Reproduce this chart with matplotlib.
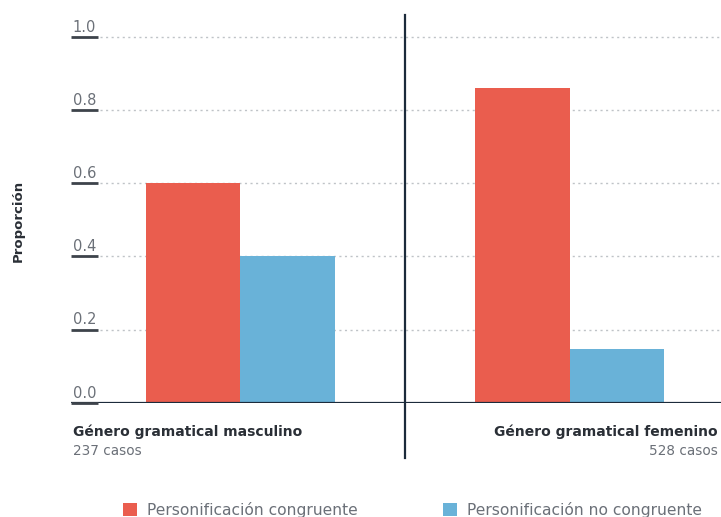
import matplotlib
matplotlib.use('Agg')
import matplotlib.pyplot as plt
import matplotlib.transforms as mtransforms
import numpy as np

# Data
grupos = ['Género gramatical masculino', 'Género gramatical femenino']
casos = [237, 528]
congruente = [0.60, 0.86]
no_congruente = [0.40, 0.147]
series_labels = ['Personificación congruente', 'Personificación no congruente']
yticks = [0.0, 0.2, 0.4, 0.6, 0.8, 1.0]

RED = '#EA5D4E'
BLUE = '#69B2D8'
NAVY = '#1c2b3b'
GREY_TXT = '#6b7078'
GREY_LINE = '#3d434b'

plt.rcParams['font.family'] = ['DejaVu Sans']

W, H = 721, 517
fig = plt.figure(figsize=(W / 100, H / 100), dpi=100)
ax_left = 71 / W
ax_bottom = (H - 402.7) / H
ax_top = (H - 37) / H
ax = fig.add_axes([ax_left, ax_bottom, 1.0 - ax_left, ax_top - ax_bottom])

x = np.arange(len(grupos))
width = 0.287
b1 = ax.bar(x - width / 2, congruente, width, color=RED, label=series_labels[0], zorder=2)
b2 = ax.bar(x + width / 2, no_congruente, width, color=BLUE, label=series_labels[1], zorder=2)

ax.set_xlim(-0.514, 1.459)
ax.set_ylim(0, 1.0)

for s in ax.spines.values():
    s.set_visible(False)
ax.set_xticks([])
ax.set_yticks([])

# baseline
ax.axhline(0, color=NAVY, lw=1.6, zorder=3)

# dotted grid, short underline and label per tick
trans = mtransforms.blended_transform_factory(ax.transAxes, ax.transData)
ax_w = W * (1.0 - ax_left)
for t in yticks:
    if t > 0:
        ax.plot([29 / ax_w, 1.0], [t, t], transform=trans, color='#bfc3c7',
                lw=1.0, ls=(0, (1.5, 2.5)), zorder=1, clip_on=False)
    ax.plot([0.0, 27 / ax_w], [t, t], transform=trans, color=GREY_LINE,
            lw=2.0, zorder=3, clip_on=False, solid_capstyle='butt')
    ax.annotate(f'{t:.1f}', xy=(1.5 / ax_w, t), xycoords=trans,
                xytext=(0, 1.5), textcoords='offset points',
                ha='left', va='bottom', fontsize=10.5, color=GREY_TXT)

# divider between the two groups
ax_h = 402.7 - 37
ax.axvline(0.5, ymin=-(458 - 402.7) / ax_h, ymax=(402.7 - 15) / ax_h,
           color=NAVY, lw=1.6, clip_on=False, zorder=3)

# group labels
fig.text(73 / W, 1 - 432 / H, grupos[0], ha='left', va='center',
         fontsize=10, fontweight='bold', color='#2a2f36')
fig.text(73 / W, 1 - 451 / H, f'{casos[0]} casos', ha='left', va='center',
         fontsize=9.8, color=GREY_TXT)
fig.text(718 / W, 1 - 432 / H, grupos[1], ha='right', va='center',
         fontsize=10, fontweight='bold', color='#2a2f36')
fig.text(718 / W, 1 - 451 / H, f'{casos[1]} casos', ha='right', va='center',
         fontsize=9.8, color=GREY_TXT)

# y label
fig.text(18 / W, 1 - 221 / H, 'Proporción', rotation=90, ha='center',
         va='center', fontsize=9.5, fontweight='bold', color='#2a2f36')

# legend
fig.legend(handles=[b1, b2], labels=series_labels, loc='center',
           bbox_to_anchor=(412.5 / W, 1 - 510 / H), ncol=2, frameon=False,
           fontsize=11.2, handlelength=0.9, handleheight=0.9, handletextpad=0.63,
           columnspacing=5.5, borderpad=0, labelcolor=GREY_TXT)

fig.savefig('out.png', dpi=100)
